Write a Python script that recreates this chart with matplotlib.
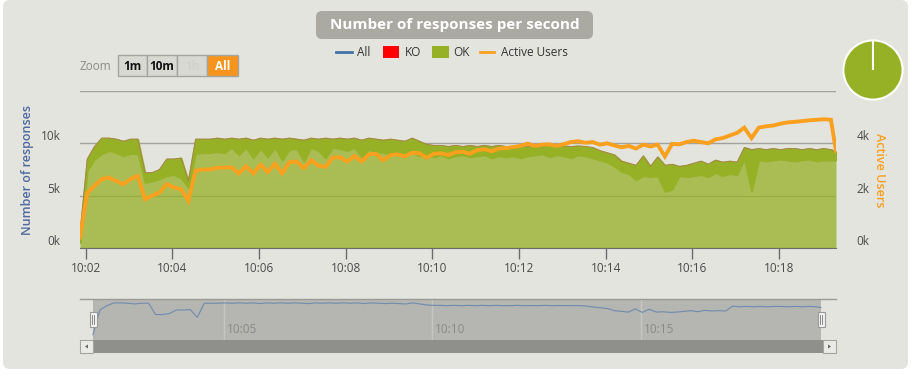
import numpy as np
import matplotlib.pyplot as plt
from matplotlib.patches import FancyBboxPatch, Rectangle, Polygon
from matplotlib.lines import Line2D
from matplotlib.transforms import IdentityTransform

t_sec = list(range(112, 1160, 10)) + [1159]   # seconds after 10:00:00

ok_hi_k = [1.5, 8.5, 9.7, 10.5, 10.5, 10.4, 10.2, 10.4, 10.4, 7.2,
           7.2, 7.5, 8.5, 8.5, 8.6, 6.4, 10.4, 10.4, 10.4, 10.5,
           10.4, 10.5, 10.4, 10.5, 10.3, 10.5, 10.4, 10.5, 10.4, 10.5,
           10.4, 10.3, 10.5, 10.4, 10.5, 10.4, 10.5, 10.4, 10.5, 10.3,
           10.5, 10.4, 10.3, 10.4, 10.3, 10.2, 10.5, 10.2, 9.9, 9.8,
           9.8, 9.7, 9.8, 9.7, 9.8, 9.7, 9.8, 9.7, 9.8, 9.7,
           9.7, 9.8, 9.7, 9.75, 9.7, 9.8, 9.7, 9.75, 9.7, 9.75,
           9.7, 9.6, 9.3, 9.1, 8.9, 8.3, 8.1, 7.9, 8.8, 7.8,
           8.7, 7.9, 8.0, 7.8, 7.9, 8.1, 8.3, 8.0, 8.4, 8.2,
           8.3, 8.2, 9.6, 9.4, 9.5, 9.4, 9.5, 9.4, 9.5, 9.5,
           9.4, 9.5, 9.4, 9.5, 9.4, 9.2]

ok_lo_k = [0.5, 7.4, 8.5, 9.0, 9.3, 9.1, 8.8, 9.0, 9.0, 6.25,
           6.4, 6.6, 6.9, 7.0, 6.7, 5.8, 9.0, 9.1, 9.1, 9.2,
           9.1, 9.6, 8.9, 9.6, 8.6, 9.5, 8.7, 9.6, 8.4, 9.4,
           9.5, 8.3, 9.6, 9.3, 8.6, 9.6, 9.5, 9.3, 9.6, 8.7,
           9.4, 9.2, 9.1, 9.0, 9.1, 8.9, 9.1, 8.8, 8.9, 8.7,
           8.9, 8.6, 8.8, 8.9, 8.7, 8.8, 8.9, 8.6, 8.8, 8.7,
           8.8, 8.6, 8.8, 8.9, 9.0, 8.7, 8.9, 8.8, 8.6, 8.9,
           8.8, 8.6, 8.4, 8.2, 7.8, 7.3, 7.1, 6.5, 6.9, 6.8,
           6.9, 5.4, 5.6, 6.9, 6.8, 6.9, 7.0, 6.8, 7.2, 6.9,
           7.1, 7.0, 8.5, 5.4, 8.4, 8.3, 8.4, 8.5, 8.4, 8.3,
           8.4, 8.5, 8.3, 8.4, 8.4, 8.4]

users_k = [0.4, 2.1, 2.37, 2.63, 2.69, 2.56, 2.44, 2.63, 2.76, 1.87,
           2.0, 2.12, 2.44, 2.31, 2.25, 1.8, 2.95, 3.0, 3.0, 3.07,
           3.07, 3.08, 2.85, 3.12, 2.85, 3.18, 2.9, 3.22, 2.85, 3.28,
           3.3, 3.05, 3.36, 3.15, 3.1, 3.45, 3.47, 3.3, 3.52, 3.3,
           3.58, 3.6, 3.35, 3.55, 3.58, 3.5, 3.64, 3.62, 3.45, 3.6,
           3.62, 3.55, 3.66, 3.68, 3.6, 3.74, 3.77, 3.7, 3.8, 3.82,
           3.86, 3.9, 3.99, 3.9, 3.95, 3.96, 3.9, 3.97, 4.05, 4.08,
           4.02, 4.05, 3.95, 4.0, 3.92, 3.85, 3.9, 3.8, 3.95, 3.88,
           3.95, 3.5, 3.98, 3.96, 4.05, 4.1, 4.05, 4.0, 4.15, 4.2,
           4.3, 4.4, 4.6, 4.2, 4.6, 4.65, 4.68, 4.75, 4.8, 4.82,
           4.85, 4.88, 4.9, 4.92, 4.9, 3.7]

pie_values = [100, 0]   # OK, KO share
x_ticks = [120, 240, 360, 480, 600, 720, 840, 960, 1080]
x_labels = ['10:02', '10:04', '10:06', '10:08', '10:10', '10:12', '10:14', '10:16', '10:18']
nav_ticks = [300, 600, 900]
nav_labels = ['10:05', '10:10', '10:15']

ok_c = '#96B125'
ko_c = '#FF0000'
all_c = '#4572A7'
usr_c = '#F9A01E'
bg = '#E4E4DF'

W, H = 912, 375
plt.rcParams['font.family'] = ['Open Sans', 'DejaVu Sans']
fig = plt.figure(figsize=(W / 100, H / 100), dpi=100, facecolor='white')
px = IdentityTransform()


def rect(x0, y0, x1, y1, **kw):
    # pixel box, y counted from the top of the picture
    p = Rectangle((x0, H - y1), x1 - x0, y1 - y0, transform=px, **kw)
    fig.add_artist(p)
    return p


def rbox(x0, y0, x1, y1, r, **kw):
    p = FancyBboxPatch((x0, H - y1), x1 - x0, y1 - y0,
                       boxstyle=f'round,pad=0,rounding_size={r}', transform=px, **kw)
    fig.add_artist(p)
    return p


def text(x, y, s, **kw):
    return fig.text(x, H - y, s, transform=px, **kw)


rbox(3, 0, 908, 369, 7, fc=bg, ec='none', zorder=-10)

t = np.array(t_sec, dtype=float)
hi = np.array(ok_hi_k) * 1000
lo = np.array(ok_lo_k) * 1000
users = np.array(users_k) * 1000

# ---- main chart ----
L, R, T, B = 80, 836, 91, 248
ax = fig.add_axes([L / W, 1 - B / H, (R - L) / W, (B - T) / H])
ax.set_facecolor('none')
ax.set_xlim(t[0], t[-1])
ax.set_ylim(0, 15000)
ax.yaxis.grid(True, color='#A2A29D', lw=1)
ax.set_axisbelow(True)
ax.fill_between(t, 0, hi, color=ok_c, alpha=0.75, lw=0, zorder=1)
ax.fill_between(t, lo, hi, color=ok_c, ec=ok_c, lw=1.2, zorder=2)
ax.plot(t, hi, color='#A6864A', lw=0.7, zorder=3)

ax.set_yticks([0, 5000, 10000, 15000], ['0k', '5k', '10k', ''])
ax.set_xticks(x_ticks, x_labels)
ax.tick_params(axis='y', length=0, pad=14, labelsize=8.5, labelcolor='#4A4A4A')
ax.tick_params(axis='x', length=8, width=1, color='#6B6B6B', pad=2,
               labelsize=8.5, labelcolor='#4A4A4A')
for lb in ax.get_yticklabels():
    lb.set_verticalalignment('bottom')
for s in ['top', 'left', 'right']:
    ax.spines[s].set_visible(False)
ax.spines['bottom'].set_color('#6B6B6B')
ax.spines['bottom'].set_zorder(5)

ax2 = ax.twinx()
ax2.plot(t, users, color=usr_c, lw=2.8, solid_joinstyle='miter')
ax2.set_ylim(0, 6000)
ax2.set_yticks([0, 2000, 4000, 6000], ['0k', '2k', '4k', ''])
ax2.tick_params(axis='y', length=0, pad=15, labelsize=8.5, labelcolor='#4A4A4A')
for lb in ax2.get_yticklabels():
    lb.set_verticalalignment('bottom')
for s in ax2.spines.values():
    s.set_visible(False)

text(28, 170, 'Number of responses', rotation=90, ha='center', va='center',
     color='#4F69A0', fontsize=9, fontweight='semibold')
text(880, 170, 'Active Users', rotation=270, ha='center', va='center',
     color=usr_c, fontsize=9, fontweight='semibold')

# ---- navigator ----
NT, NB = 299, 340
nav = fig.add_axes([L / W, 1 - NB / H, (R - L) / W, (NB - NT) / H])
nav.set_facecolor('none')
span = t[-1] - t[0]
nav.set_xlim(t[0] - 13 * span / 728, t[-1] + 15 * span / 728)
nav.set_ylim(0, 11600)
nav.axvspan(t[0], t[-1], color='#B5B5B1', lw=0)
for tk, lbl in zip(nav_ticks, nav_labels):
    nav.axvline(tk, color='#C6C6C2', lw=1)
    nav.annotate(lbl, xy=(tk, 0), xycoords=('data', 'axes fraction'),
                 xytext=(2, 3), textcoords='offset points', ha='left', va='bottom',
                 color='#8A8A85', fontsize=8.5)
nav.plot(t, hi, color='#6F8BAD', lw=0.8)
nav.set_xticks([])
nav.set_yticks([])
for s in nav.spines.values():
    s.set_visible(False)
fig.add_artist(Line2D([L, R], [H - NT, H - NT], transform=px, color='#9A9A96', lw=1))

# handles
for hx in (93, 821):
    rect(hx - 3.5, 312, hx + 3.5, 327, fc='#F2F2F2', ec='#9A9A96', lw=0.8, zorder=6)
    for dx in (-1, 1):
        fig.add_artist(Line2D([hx + dx, hx + dx], [H - 315, H - 324], transform=px,
                              color='#777777', lw=0.6, zorder=7))

# scrollbar
rect(L, 340, R, 353, fc='#8F8F8B', ec='none', zorder=5)
for bx0, bx1, d in ((80, 93, -1), (823, 836, 1)):
    rect(bx0, 340, bx1, 353, fc='#EAEAE6', ec='#A5A5A0', lw=0.8, zorder=6)
    cx = (bx0 + bx1) / 2
    fig.add_artist(Polygon([(cx + 1.5 * d, H - 346.5), (cx - 1.5 * d, H - 344.5),
                            (cx - 1.5 * d, H - 348.5)], closed=True, transform=px,
                           fc='#666666', ec='none', zorder=7))

# ---- pie ----
pie_ax = fig.add_axes([(873 - 37) / W, 1 - (70 + 37) / H, 74 / W, 74 / H])
pie_ax.pie(pie_values, colors=[ok_c, ko_c], startangle=90, counterclock=False,
           wedgeprops=dict(edgecolor='white', linewidth=1.5))
pie_ax.set_aspect('equal')

# ---- title ----
rbox(316, 11, 593, 39, 6, fc='#AAAAA3', ec='none', zorder=4)
text(455, 25, 'Number of responses per second', ha='center', va='center',
     color='white', fontsize=11, fontweight='bold', zorder=5)

# ---- legend ----
fig.add_artist(Line2D([336, 352], [H - 52, H - 52], transform=px, color=all_c, lw=2))
text(357, 52, 'All', va='center', fontsize=8.5, color='#333333')
rect(383, 46, 399, 58, fc=ko_c, ec='none')
text(405, 52, 'KO', va='center', fontsize=8.5, color='#333333')
rect(432, 46, 449, 58, fc=ok_c, ec='none')
text(453, 52, 'OK', va='center', fontsize=8.5, color='#333333')
fig.add_artist(Line2D([480, 494], [H - 52, H - 52], transform=px, color=usr_c, lw=2))
text(501, 52, 'Active Users', va='center', fontsize=8.5, color='#333333')

# ---- zoom buttons ----
text(80, 66, 'Zoom', va='center', fontsize=8.5, color='#8C8C87')
buttons = [('1m', 118, 147), ('10m', 147, 177), ('1h', 177, 207), ('All', 207, 238)]
for name, x0, x1 in buttons:
    active = name == 'All'
    rect(x0, 55, x1, 76, fc='#F7941E' if active else '#D9D9D4', ec='#A5A5A0', lw=1)
    col = 'white' if active else ('#D0D0CC' if name == '1h' else '#111111')
    text((x0 + x1) / 2, 66, name, ha='center', va='center', fontsize=8.5,
         fontweight='bold', color=col)

fig.savefig('out.png', dpi=100)
